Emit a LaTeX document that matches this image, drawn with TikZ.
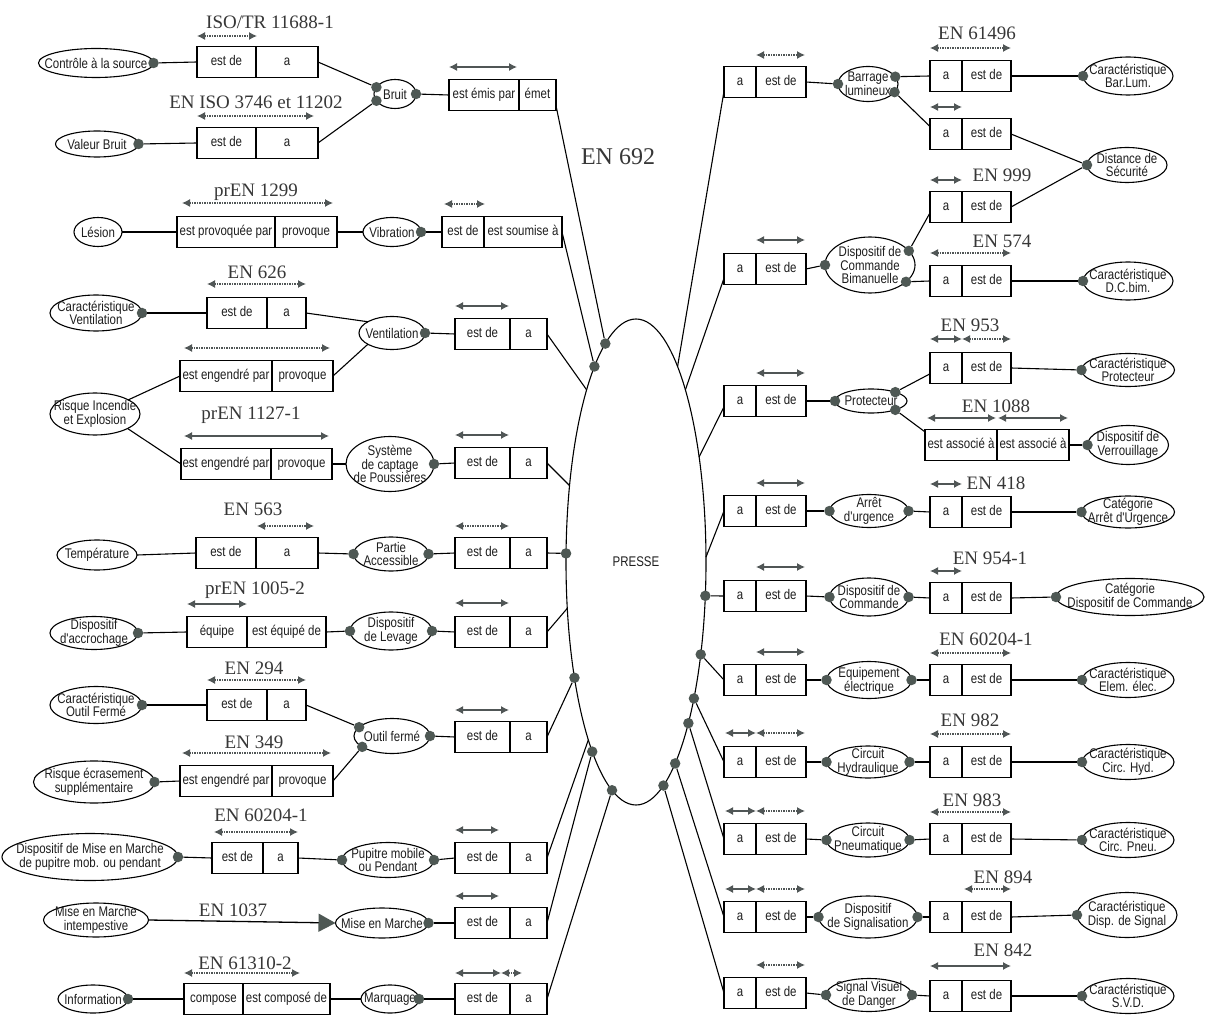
\documentclass[tikz,border=0pt]{standalone}
\usepackage{fontspec}
\setmainfont{Liberation Serif}
\newfontfamily\narrowsans[FakeStretch=0.82]{Liberation Sans}
\usetikzlibrary{shapes.geometric,arrows.meta,calc}

\definecolor{dotc}{RGB}{78,88,84}
\definecolor{arrc}{RGB}{80,86,86}
\definecolor{txtc}{RGB}{30,30,30}
\definecolor{labc}{RGB}{55,55,55}

\tikzset{
 cell/.style={draw, line width=1.1pt, rectangle, minimum height=31pt, inner sep=0pt, outer sep=0pt, text height=10pt, text depth=3pt, font=\narrowsans\fontsize{14}{14}\selectfont, text=txtc},
 ent/.style={draw, line width=1.1pt, ellipse, inner sep=0pt, outer sep=0pt},
 enttext/.style={font=\narrowsans\fontsize{14}{13.5}\selectfont, align=center, inner sep=0pt, text=txtc},
 dotn/.style={circle, fill=dotc, minimum size=10.5pt, inner sep=0pt},
 stdlabel/.style={font=\fontsize{19}{19}\selectfont, text=labc, inner sep=0pt},
 dbl/.style={{Latex[length=8pt,width=8pt]}-{Latex[length=8pt,width=8pt]}, line width=1.3pt, draw=arrc},
 dbld/.style={dbl, dash pattern=on 1.5pt off 1pt},
 conn/.style={line width=1.1pt, draw=black},
}

\newcommand{\mkrel}[7]{%
 \node[cell, minimum width=#4pt, anchor=west] (#1a) at (#2,#3) {#6};
 \node[cell, minimum width=#5pt, anchor=west] (#1b) at (#1a.east) {#7};}
\newcommand{\mkent}[6]{%
 \node[ent, minimum width=#4pt, minimum height=#5pt] (#1) at (#2,#3) {};
 \node[enttext] (#1t) at (#1.center) {#6};}
\newcommand{\mkdot}[2]{\node[dotn] (#1) at (#2) {};}

\begin{document}
\begin{tikzpicture}[x=1pt,y=-1pt]
\useasboundingbox[fill=white] (0,0) rectangle (1205,1016);

% central ellipse
\mkent{P}{636}{562}{140}{486}{PRESSE}
\node[font=\fontsize{24}{24}\selectfont, text=labc, inner sep=0pt] (en692) at (618,157) {EN 692};

% ---------------- left entities
\mkent{L1}{96}{63}{115}{29}{Contrôle à la source}
\mkent{L2}{97}{144}{83}{26}{Valeur Bruit}
\mkent{Bruit}{395}{94}{42}{29}{Bruit}
\mkent{Les}{98}{232}{48}{29}{Lésion}
\mkent{Vib}{392}{232}{58}{29}{Vibration}
\mkent{CarV}{96}{313}{92}{36}{Caractéristique\\Ventilation}
\mkent{Vent}{392}{333}{66}{33}{Ventilation}
\mkent{Risq}{95}{414}{90}{42}{Risque Incendie\\et Explosion}
\mkent{Sys}{390}{464}{88}{55}{Système\\de captage\\de Poussières}
\mkent{Temp}{97}{555}{80}{30}{Température}
\mkent{Part}{391}{554}{75}{34}{Partie\\Accessible}
\mkent{Accr}{94}{633}{88}{33}{Dispositif\\d'accrochage}
\mkent{Lev}{391}{631}{82}{38}{Dispositif\\de Levage}
\mkent{CarO}{96}{705}{92}{37}{Caractéristique\\Outil Fermé}
\mkent{Outil}{392}{736}{76}{35}{Outil fermé}
\mkent{Ecr}{94}{782}{121}{42}{Risque écrasement\\supplémentaire}
\mkent{DMM}{90}{857}{176}{47}{Dispositif de Mise en Marche\\de pupitre mob. ou pendant}
\mkent{Pup}{388}{860}{92}{35}{Pupitre mobile\\ou Pendant}
\mkent{MMI}{96}{920}{105}{34}{Mise en Marche\\intempestive}
\mkent{MM}{382}{923}{93}{30}{Mise en Marche}
\mkent{Info}{93}{999}{70}{28}{Information}
\mkent{Marq}{390}{999}{58}{28}{Marquage}

% ---------------- right entities
\mkent{Barr}{868}{84}{60}{35}{Barrage\\lumineux}
\mkent{CBL}{1128}{76}{90}{38}{Caractéristique\\Bar.Lum.}
\mkent{Dist}{1127}{165}{80}{35}{Distance de\\Sécurité}
\mkent{Bim}{870}{265}{90}{56}{Dispositif de\\Commande\\Bimanuelle}
\mkent{CDC}{1128}{281}{90}{38}{Caractéristique\\D.C.bim.}
\mkent{Prot}{871}{401}{72}{24}{Protecteur}
\mkent{CPr}{1128}{370}{93}{33}{Caractéristique\\Protecteur}
\mkent{Verr}{1128}{445}{81}{39}{Dispositif de\\Verrouillage}
\mkent{Arr}{869}{511}{79}{33}{Arrêt\\d'urgence}
\mkent{CAU}{1128}{512}{93}{32}{Catégorie\\Arrêt d'Urgence}
\mkent{DC}{869}{597}{79}{38}{Dispositif de\\Commande}
\mkent{CDCo}{1130}{597}{148}{37}{Catégorie\\Dispositif de Commande}
\mkent{Equip}{869}{680}{85}{37}{Équipement\\électrique}
\mkent{CEE}{1128}{680}{92}{35}{Caractéristique\\Elem. élec.}
\mkent{Hyd}{868}{762}{83}{32}{Circuit\\Hydraulique}
\mkent{CCH}{1128}{762}{92}{35}{Caractéristique\\Circ. Hyd.}
\mkent{Pneu}{868}{840}{83}{34}{Circuit\\Pneumatique}
\mkent{CCP}{1128}{840}{92}{35}{Caractéristique\\Circ. Pneu.}
\mkent{Sig}{868}{917}{99}{42}{Dispositif\\de Signalisation}
\mkent{CDS}{1127}{915}{100}{45}{Caractéristique\\Disp. de Signal}
\mkent{SVD}{869}{995}{86}{33}{Signal Visuel\\de Danger}
\mkent{CSVD}{1128}{996}{92}{35}{Caractéristique\\S.V.D.}

% ---------------- left relation boxes
\mkrel{B1}{197}{62}{59}{62}{est de}{a}
\mkrel{B2}{197}{143}{59}{62}{est de}{a}
\mkrel{B3}{449}{95}{70}{37}{est émis par}{émet}
\mkrel{B4}{177}{232}{98}{62}{est provoquée par}{provoque}
\mkrel{B5}{442}{232}{42}{78}{est de}{est soumise à}
\mkrel{B6}{207}{313}{60}{39}{est de}{a}
\mkrel{B7}{455}{334}{55}{37}{est de}{a}
\mkrel{B8}{180}{376}{92}{61}{est engendré par}{provoque}
\mkrel{B9}{181}{464}{90}{61}{est engendré par}{provoque}
\mkrel{B10}{455}{463}{55}{37}{est de}{a}
\mkrel{B11}{196}{553}{60}{62}{est de}{a}
\mkrel{B12}{455}{553}{55}{37}{est de}{a}
\mkrel{B13}{187}{632}{60}{79}{équipe}{est équipé de}
\mkrel{B14}{455}{632}{55}{37}{est de}{a}
\mkrel{B15}{207}{705}{60}{39}{est de}{a}
\mkrel{B16}{180}{781}{92}{61}{est engendré par}{provoque}
\mkrel{B17}{455}{737}{55}{37}{est de}{a}
\mkrel{B18}{212}{858}{51}{35}{est de}{a}
\mkrel{B19}{455}{858}{55}{37}{est de}{a}
\mkrel{B20}{455}{923}{55}{37}{est de}{a}
\mkrel{B21}{184}{999}{59}{87}{compose}{est composé de}
\mkrel{B22}{455}{999}{55}{37}{est de}{a}

% ---------------- right relation boxes
\mkrel{R1}{724}{82}{32}{50}{a}{est de}
\mkrel{R2}{930}{76}{32}{49}{a}{est de}
\mkrel{R3}{930}{134}{32}{49}{a}{est de}
\mkrel{R4}{930}{207}{32}{49}{a}{est de}
\mkrel{R5}{724}{269}{32}{50}{a}{est de}
\mkrel{R6}{930}{281}{32}{49}{a}{est de}
\mkrel{R7}{724}{401}{32}{50}{a}{est de}
\mkrel{R8}{930}{368}{32}{49}{a}{est de}
\mkrel{R9}{925}{445}{72}{72}{est associé à}{est associé à}
\mkrel{R10}{724}{511}{32}{50}{a}{est de}
\mkrel{R11}{930}{512}{32}{49}{a}{est de}
\mkrel{R12}{724}{596}{32}{50}{a}{est de}
\mkrel{R13}{930}{598}{32}{49}{a}{est de}
\mkrel{R14}{724}{680}{32}{50}{a}{est de}
\mkrel{R15}{930}{680}{32}{49}{a}{est de}
\mkrel{R16}{724}{762}{32}{50}{a}{est de}
\mkrel{R17}{930}{762}{32}{49}{a}{est de}
\mkrel{R18}{724}{839}{32}{50}{a}{est de}
\mkrel{R19}{930}{839}{32}{49}{a}{est de}
\mkrel{R20}{724}{917}{32}{50}{a}{est de}
\mkrel{R21}{930}{917}{32}{49}{a}{est de}
\mkrel{R22}{724}{993}{32}{50}{a}{est de}
\mkrel{R23}{930}{996}{32}{49}{a}{est de}

% ---------------- dots
\mkdot{dL1}{L1.east} \mkdot{dL2}{L2.east}
\mkdot{dBr1}{Bruit.160} \mkdot{dBr2}{Bruit.200} \mkdot{dBr3}{Bruit.east}
\mkdot{dVib}{Vib.east} \mkdot{dCarV}{CarV.east} \mkdot{dVent}{Vent.east}
\mkdot{dSys}{Sys.east} \mkdot{dPart1}{Part.west} \mkdot{dPart2}{Part.east}
\mkdot{dAccr}{Accr.east} \mkdot{dLev1}{Lev.west} \mkdot{dLev2}{Lev.east}
\mkdot{dCarO}{CarO.east} \mkdot{dOut1}{Outil.165} \mkdot{dOut2}{Outil.200}
\mkdot{dOut3}{Outil.east} \mkdot{dEcr}{Ecr.east} \mkdot{dDMM}{DMM.east}
\mkdot{dPup1}{Pup.west} \mkdot{dPup2}{Pup.east} \mkdot{dMM}{MM.east}
\mkdot{dInfo}{Info.east} \mkdot{dMarq}{Marq.east}
\mkdot{dP1}{P.98} \mkdot{dP2}{P.102} \mkdot{dP3}{P.173} \mkdot{dP4}{P.242}
\mkdot{dP5}{P.257} \mkdot{dP6}{P.264}
\mkdot{dP7}{P.-26} \mkdot{dP8}{P.-55} \mkdot{dP9}{P.-67} \mkdot{dP10}{P.-72}
\mkdot{dP11}{P.-79} \mkdot{dP12}{P.-83}
\mkdot{dBarr1}{Barr.west} \mkdot{dBarr2}{Barr.15} \mkdot{dBarr3}{Barr.-17}
\mkdot{dCBL}{CBL.west} \mkdot{dDist}{Dist.west}
\mkdot{dBim1}{Bim.west} \mkdot{dBim2}{Bim.20} \mkdot{dBim3}{Bim.-25}
\mkdot{dCDC}{CDC.west}
\mkdot{dProt1}{Prot.west} \mkdot{dProt2}{Prot.20} \mkdot{dProt3}{Prot.-20}
\mkdot{dCPr}{CPr.west} \mkdot{dVerr}{Verr.west}
\mkdot{dArr1}{Arr.west} \mkdot{dArr2}{Arr.east} \mkdot{dCAU}{CAU.west}
\mkdot{dDC1}{DC.west} \mkdot{dDC2}{DC.east} \mkdot{dCDCo}{CDCo.west}
\mkdot{dEq1}{Equip.west} \mkdot{dEq2}{Equip.east} \mkdot{dCEE}{CEE.west}
\mkdot{dHyd1}{Hyd.west} \mkdot{dHyd2}{Hyd.east} \mkdot{dCCH}{CCH.west}
\mkdot{dPn1}{Pneu.west} \mkdot{dPn2}{Pneu.east} \mkdot{dCCP}{CCP.west}
\mkdot{dSig1}{Sig.west} \mkdot{dSig2}{Sig.east} \mkdot{dCDS}{CDS.west}
\mkdot{dSVD1}{SVD.west} \mkdot{dSVD2}{SVD.east} \mkdot{dCSVD}{CSVD.west}

% ---------------- left connectors
\draw[conn] (dL1) -- (B1a.west);
\draw[conn] (dL2) -- (B2a.west);
\draw[conn] (B1b.east) -- (dBr1);
\draw[conn] (B2b.east) -- (dBr2);
\draw[conn] (dBr3) -- (B3a.west);
\draw[conn] (B3b.-30) -- (dP1);
\draw[conn] (Les.east) -- (B4a.west);
\draw[conn] (B4b.east) -- (Vib.west);
\draw[conn] (dVib) -- (B5a.west);
\draw[conn] (B5b.east) -- (dP2);
\draw[conn] (dCarV) -- (B6a.west);
\draw[conn] (B6b.east) -- (Vent.155);
\draw[conn] (Risq.23) -- (B8a.west);
\draw[conn] (B8b.east) -- (Vent.205);
\draw[conn] (dVent) -- (B7a.west);
\draw[conn] (B7b.east) -- (P.106);
\draw[conn] (Risq.-24) -- (B9a.west);
\draw[conn] (B9b.east) -- (Sys.west);
\draw[conn] (dSys) -- (B10a.west);
\draw[conn] (B10b.east) -- (P.131);
\draw[conn] (Temp.east) -- (B11a.west);
\draw[conn] (B11b.east) -- (dPart1);
\draw[conn] (dPart2) -- (B12a.west);
\draw[conn] (B12b.east) -- (dP3);
\draw[conn] (dAccr) -- (B13a.west);
\draw[conn] (B13b.east) -- (dLev1);
\draw[conn] (dLev2) -- (B14a.west);
\draw[conn] (B14b.east) -- (P.214);
\draw[conn] (dCarO) -- (B15a.west);
\draw[conn] (B15b.east) -- (dOut1);
\draw[conn] (dEcr) -- (B16a.west);
\draw[conn] (B16b.east) -- (dOut2);
\draw[conn] (dOut3) -- (B17a.west);
\draw[conn] (B17b.east) -- (dP4);
\draw[conn] (dDMM) -- (B18a.west);
\draw[conn] (B18b.east) -- (dPup1);
\draw[conn] (dPup2) -- (B19a.west);
\draw[conn] (B19b.east) -- (P.255);
\draw[line width=1.3pt, -{Triangle[length=17pt,width=18pt,color=dotc]}] (MMI.east) -- (MM.west);
\draw[conn] (dMM) -- (B20a.west);
\draw[conn] (B20b.east) -- (dP5);
\draw[conn] (dInfo) -- (B21a.west);
\draw[conn] (B21b.east) -- (Marq.west);
\draw[conn] (dMarq) -- (B22a.west);
\draw[conn] (B22b.east) -- (dP6);

% ---------------- right connectors
\draw[conn] (P.78) -- (R1a.210);
\draw[conn] (R1b.east) -- (dBarr1);
\draw[conn] (dBarr2) -- (R2a.west);
\draw[conn] (R2b.east) -- (dCBL);
\draw[conn] (dBarr3) -- (R3a.155);
\draw[conn] (R3b.east) -- (dDist);
\draw[conn] (R4b.east) -- (dDist);
\draw[conn] (dBim2) -- (R4a.200);
\draw[conn] (P.74) -- (R5a.210);
\draw[conn] (R5b.east) -- (dBim1);
\draw[conn] (dBim3) -- (R6a.west);
\draw[conn] (R6b.east) -- (dCDC);
\draw[conn] (P.59) -- (R7a.200);
\draw[conn] (R7b.east) -- (dProt1);
\draw[conn] (dProt2) -- (R8a.200);
\draw[conn] (R8b.east) -- (dCPr);
\draw[conn] (dProt3) -- (R9a.160);
\draw[conn] (R9b.east) -- (dVerr);
\draw[conn] (P.4) -- (R10a.west);
\draw[conn] (R10b.east) -- (dArr1);
\draw[conn] (dArr2) -- (R11a.west);
\draw[conn] (R11b.east) -- (dCAU);
\draw[conn] (dP7) -- (R12a.west);
\draw[conn] (R12b.east) -- (dDC1);
\draw[conn] (dDC2) -- (R13a.west);
\draw[conn] (R13b.east) -- (dCDCo);
\draw[conn] (dP8) -- (R14a.west);
\draw[conn] (R14b.east) -- (dEq1);
\draw[conn] (dEq2) -- (R15a.west);
\draw[conn] (R15b.east) -- (dCEE);
\draw[conn] (dP9) -- (R16a.west);
\draw[conn] (R16b.east) -- (dHyd1);
\draw[conn] (dHyd2) -- (R17a.west);
\draw[conn] (R17b.east) -- (dCCH);
\draw[conn] (dP10) -- (R18a.west);
\draw[conn] (R18b.east) -- (dPn1);
\draw[conn] (dPn2) -- (R19a.west);
\draw[conn] (R19b.east) -- (dCCP);
\draw[conn] (dP11) -- (R20a.west);
\draw[conn] (R20b.east) -- (dSig1);
\draw[conn] (dSig2) -- (R21a.west);
\draw[conn] (R21b.east) -- (dCDS);
\draw[conn] (dP12) -- (R22a.west);
\draw[conn] (R22b.east) -- (dSVD1);
\draw[conn] (dSVD2) -- (R23a.west);
\draw[conn] (R23b.east) -- (dCSVD);

% ---------------- norm labels and role arrows (left)
\node[stdlabel] (n1) at (270,22) {ISO/TR 11688-1};
\draw[dbld] (197,36) -- (257,36);
\node[stdlabel] (n2) at (256,102) {EN ISO 3746 et 11202};
\draw[dbld] (197,116) -- (314,116);
\node[stdlabel] (n3) at (256,192) {prEN 1299};
\draw[dbld] (182,203) -- (333,203);
\draw[dbl] (449,67) -- (517,67);
\draw[dbld] (444,204) -- (485,204);
\node[stdlabel] (n4) at (257,272) {EN 626};
\draw[dbld] (207,284) -- (306,284);
\draw[dbl] (455,306) -- (509,306);
\draw[dbld] (184,348) -- (330,348);
\node[stdlabel] (n5) at (251,415) {prEN 1127-1};
\draw[dbl] (184,436) -- (329,436);
\draw[dbl] (455,435) -- (509,435);
\node[stdlabel] (n6) at (253,509) {EN 563};
\draw[dbld] (257,526) -- (314,526);
\draw[dbld] (455,526) -- (509,526);
\node[stdlabel] (n7) at (255,590) {prEN 1005-2};
\draw[dbl] (187,604) -- (247,604);
\draw[dbl] (455,603) -- (509,603);
\node[stdlabel] (n8) at (254,668) {EN 294};
\draw[dbld] (207,680) -- (306,680);
\node[stdlabel] (n9) at (254,742) {EN 349};
\draw[dbld] (182,753) -- (331,753);
\draw[dbl] (455,710) -- (509,710);
\node[stdlabel] (n10) at (261,815) {EN 60204-1};
\draw[dbld] (214,832) -- (298,832);
\draw[dbl] (455,830) -- (499,830);
\node[stdlabel] (n11) at (233,910) {EN 1037};
\draw[dbl] (455,896) -- (499,896);
\node[stdlabel] (n12) at (245,963) {EN 61310-2};
\draw[dbld] (184,973) -- (300,973);
\draw[dbl] (455,973) -- (501,973);
\draw[dbld] (501,973) -- (522,973);

% ---------------- norm labels and role arrows (right)
\draw[dbld] (756,55) -- (805,55);
\node[stdlabel] (n13) at (977,33) {EN 61496};
\draw[dbld] (930,48) -- (1011,48);
\draw[dbl] (930,107) -- (962,107);
\node[stdlabel] (n14) at (1002,175) {EN 999};
\draw[dbl] (930,180) -- (962,180);
\draw[dbl] (756,240) -- (805,240);
\node[stdlabel] (n15) at (1002,241) {EN 574};
\draw[dbld] (930,253) -- (1011,253);
\draw[dbl] (756,373) -- (805,373);
\node[stdlabel] (n16) at (970,325) {EN 953};
\draw[dbl] (930,339) -- (962,339);
\draw[dbld] (962,339) -- (1011,339);
\node[stdlabel] (n17) at (996,406) {EN 1088};
\draw[dbl] (927,418) -- (996,418);
\draw[dbl] (998,418) -- (1068,418);
\draw[dbl] (756,483) -- (805,483);
\node[stdlabel] (n18) at (996,483) {EN 418};
\draw[dbl] (930,484) -- (962,484);
\draw[dbl] (756,567) -- (805,567);
\node[stdlabel] (n19) at (990,558) {EN 954-1};
\draw[dbl] (930,571) -- (962,571);
\draw[dbl] (756,652) -- (805,652);
\node[stdlabel] (n20) at (986,639) {EN 60204-1};
\draw[dbld] (930,653) -- (1011,653);
\draw[dbl] (725,733) -- (756,733);
\draw[dbld] (756,733) -- (805,733);
\node[stdlabel] (n21) at (970,720) {EN 982};
\draw[dbld] (930,734) -- (1011,734);
\draw[dbl] (725,811) -- (756,811);
\draw[dbld] (756,811) -- (805,811);
\node[stdlabel] (n22) at (972,800) {EN 983};
\draw[dbld] (930,812) -- (1011,812);
\draw[dbl] (725,889) -- (756,889);
\draw[dbld] (756,889) -- (805,889);
\node[stdlabel] (n23) at (1003,877) {EN 894};
\draw[dbld] (964,889) -- (1011,889);
\draw[dbld] (756,965) -- (805,965);
\node[stdlabel] (n24) at (1003,950) {EN 842};
\draw[dbl] (930,966) -- (1011,966);
\end{tikzpicture}
\end{document}
